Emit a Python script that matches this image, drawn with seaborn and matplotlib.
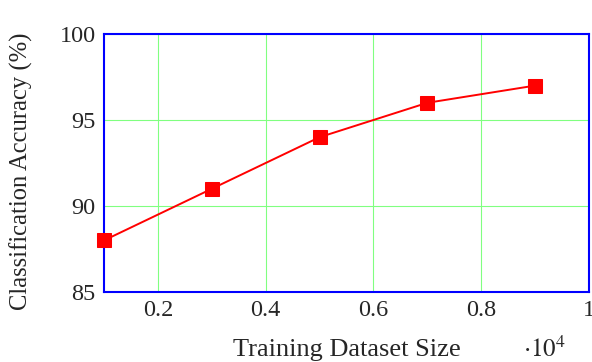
import matplotlib
matplotlib.use("Agg")
import matplotlib.pyplot as plt
import seaborn as sns
import pandas as pd

# data (dataset size in units of 10^4)
dataset_size = [0.1, 0.3, 0.5, 0.7, 0.9]
accuracy = [88, 91, 94, 96, 97]
x_ticks = [0.2, 0.4, 0.6, 0.8, 1.0]
x_tick_labels = ["0.2", "0.4", "0.6", "0.8", "1"]
y_ticks = [85, 90, 95, 100]

sns.set_style("white")
plt.rcParams["font.family"] = ["Liberation Serif", "DejaVu Serif"]
plt.rcParams["mathtext.fontset"] = "stix"

df = pd.DataFrame({"size": dataset_size, "acc": accuracy})

fig = plt.figure(figsize=(5.92, 3.62), dpi=100)
ax = fig.add_axes([0.1757, 0.1934, 0.8193, 0.7127])

sns.lineplot(data=df, x="size", y="acc", ax=ax, color="red", linewidth=1.4,
             marker="s", markersize=10, markeredgecolor="red", zorder=3,
             clip_on=False)

ax.set_xlim(0.1, 1.0)
ax.set_ylim(85, 100)
ax.set_xticks(x_ticks)
ax.set_xticklabels(x_tick_labels)
ax.set_yticks(y_ticks)
ax.grid(True, color="#80ff80", linewidth=0.8)
ax.set_axisbelow(True)

for s in ax.spines.values():
    s.set_color("blue")
    s.set_linewidth(1.5)
    s.set_visible(True)

ax.tick_params(direction="in", length=3.5, width=0.8, color="#777777",
               labelsize=17.5, pad=6, top=False, right=False)

ax.set_xlabel("")
ax.set_ylabel("Classification Accuracy (%)", fontsize=17.7)
ax.yaxis.set_label_coords(-0.147, 0.469)
fig.text(0.586, 0.033, "Training Dataset Size", fontsize=19, ha="center", va="center")
fig.text(0.92, 0.035, r"$\cdot10^4$", fontsize=18, ha="center", va="center")

fig.savefig("out.png", dpi=100)
